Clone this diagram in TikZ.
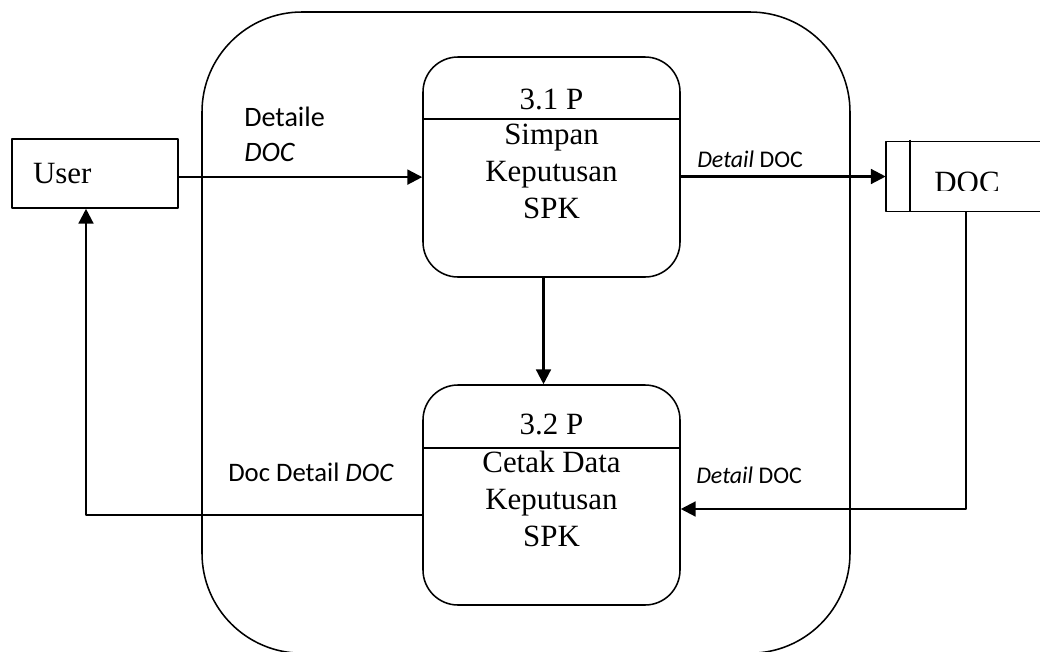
\documentclass[tikz,border=0pt]{standalone}
\usepackage{fontspec}
\setmainfont{Liberation Serif}
\newfontfamily\lblfont{Carlito}
\usetikzlibrary{arrows.meta,calc}

\begin{document}
\begin{tikzpicture}[line join=round, >={Triangle[length=0.37cm,width=0.37cm]},
		proc/.style={draw, line width=1.1pt, rounded corners=0.875cm, minimum width=6.425cm, minimum height=5.5cm, inner sep=0pt},
		ent/.style={draw, line width=1.1pt, minimum width=4.15cm, minimum height=1.725cm, inner xsep=0.525cm, text width=3.1cm, align=left},
		flow/.style={->, line width=1.6pt},
		ptext/.style={font=\fontsize{22}{26.3}\selectfont, align=center},
		lbl/.style={anchor=west, align=left, inner sep=0pt}]
	\def\W{26} \def\H{16.275} % ukuran gambar
	\useasboundingbox (0,0) rectangle (\W,-\H);
	\clip (0,0) rectangle (\W,-\H);
	% batas sistem
	\draw[line width=1.1pt, rounded corners=2.5cm] (5.05,-0.3) rectangle (21.25,-16.33);
	% entitas, proses, simpanan
	\node[ptext, ent] (user) at (2.375,-4.3375) {User};
	\node[proc] (p31) at (13.7875,-4.175) {};
	\node[proc] (p32) at (13.7875,-12.375) {};
	\node[minimum width=4cm, minimum height=1.725cm] (doc) at (24.15,-4.4125) {};
	\draw[line width=1.1pt] ($(p31.north west)+(0,-1.575)$) -- ($(p31.north east)+(0,-1.575)$);
	\draw[line width=1.1pt] ($(p32.north west)+(0,-1.6)$) -- ($(p32.north east)+(0,-1.6)$);
	\node[ptext] (t31) at ($(p31.north)+(0,-1.075)$) {3.1 P};
	\node[ptext] (b31) at ($(p31.north)+(0,-2.89)$) {Simpan\\Keputusan\\SPK};
	\node[ptext] (t32) at ($(p32.north)+(0,-1.0)$) {3.2 P};
	\node[ptext] (b32) at ($(p32.north)+(0,-2.875)$) {Cetak Data\\Keputusan\\SPK};
	\draw[line width=1.1pt] (doc.north east) -- (doc.north west) -- (doc.south west) -- (doc.south east);
	\draw[line width=1.1pt] ([xshift=0.6cm,yshift=0.05cm]doc.north west) -- ([xshift=0.6cm]doc.south west);
	\begin{scope}
		\clip (22,-4.2) rectangle (\W,-4.75);
		\node[ptext, anchor=base] (tdoc) at (24.175,-4.8) {DOC};
	\end{scope}
	% aliran data
	\draw[flow] ([yshift=-0.09cm]user.east) -- ([yshift=-0.09cm]user.east -| p31.west);
	\draw[flow] (p31.east |- doc.west) -- (doc.west);
	\draw[flow] ([xshift=-0.2cm]p31.south) -- ([xshift=-0.2cm]p32.north);
	\draw[flow] (doc.south) |- ([yshift=-0.35cm]p32.east);
	\draw[flow] ([yshift=-0.5cm]p32.west) -| ([xshift=-0.225cm]user.south);
	% label aliran
	\node[lbl, font=\lblfont\fontsize{20}{24.9}\selectfont] (l1) at (6.1,-3.3625) {Detaile\\\textit{DOC}};
	\node[lbl, font=\lblfont\fontsize{17}{20}\selectfont] (l2) at (17.425,-3.975) {\textit{Detail} DOC};
	\node[lbl, font=\lblfont\fontsize{19}{22}\selectfont] (l3) at (5.7,-11.8) {Doc Detail \textit{DOC}};
	\node[lbl, font=\lblfont\fontsize{17}{20}\selectfont] (l4) at (17.4,-11.875) {\textit{Detail} DOC};
\end{tikzpicture}
\end{document}
